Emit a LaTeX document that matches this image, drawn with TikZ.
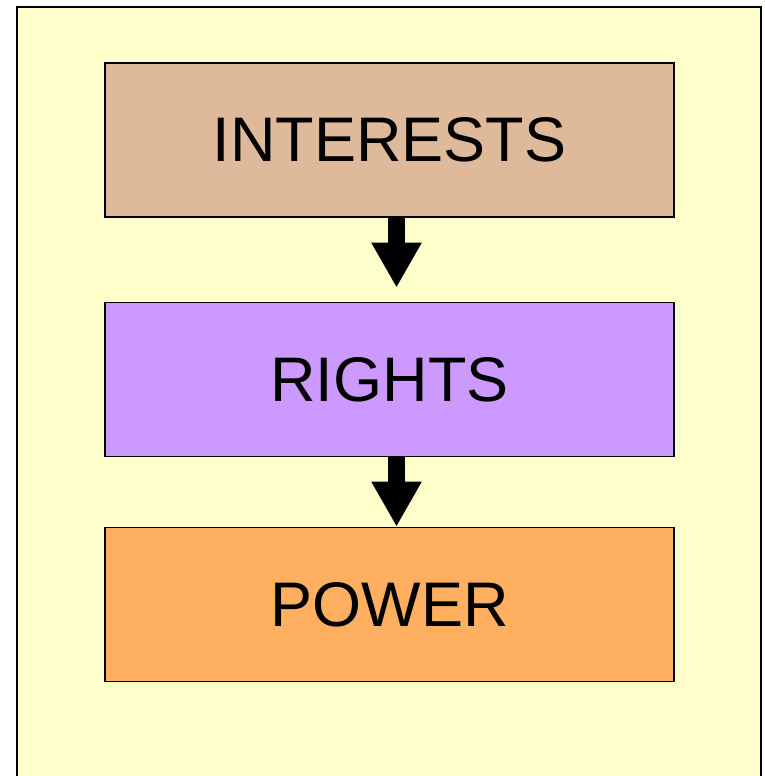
\documentclass[tikz,border=0pt]{standalone}
\usepackage{fontspec}
\setmainfont{Liberation Sans}
\usetikzlibrary{arrows.meta}
\definecolor{bgyellow}{HTML}{FFFFCC}
\definecolor{tan}{HTML}{DEBA9A}
\definecolor{lilac}{HTML}{CC99FF}
\definecolor{orangebox}{HTML}{FFAF60}
\begin{document}
\begin{tikzpicture}[x=1pt,y=1pt,
  box/.style={draw=black,line width=1.5pt,minimum width=569pt,minimum height=154pt,inner sep=0pt,font=\fontsize{63}{70}\selectfont},
  bigarrow/.style={line width=17pt,-{Triangle[width=47pt,length=45pt]}}]
\clip (0,0) rectangle (764,776);
\fill[white] (0,0) rectangle (764,776);
\draw[fill=bgyellow,line width=2pt] (17,-10) rectangle (761,769);
\node[box,fill=tan] (int) at (389.5,636) {INTERESTS};
\node[box,fill=lilac] (rig) at (389.5,396.5) {RIGHTS};
\node[box,fill=orangebox] (pow) at (389.5,171.5) {POWER};
\draw[bigarrow] ([xshift=7pt]int.south) -- ([xshift=7pt,yshift=14pt]rig.north);
\draw[bigarrow] ([xshift=7pt]rig.south) -- ([xshift=7pt]pow.north);
\end{tikzpicture}
\end{document}
